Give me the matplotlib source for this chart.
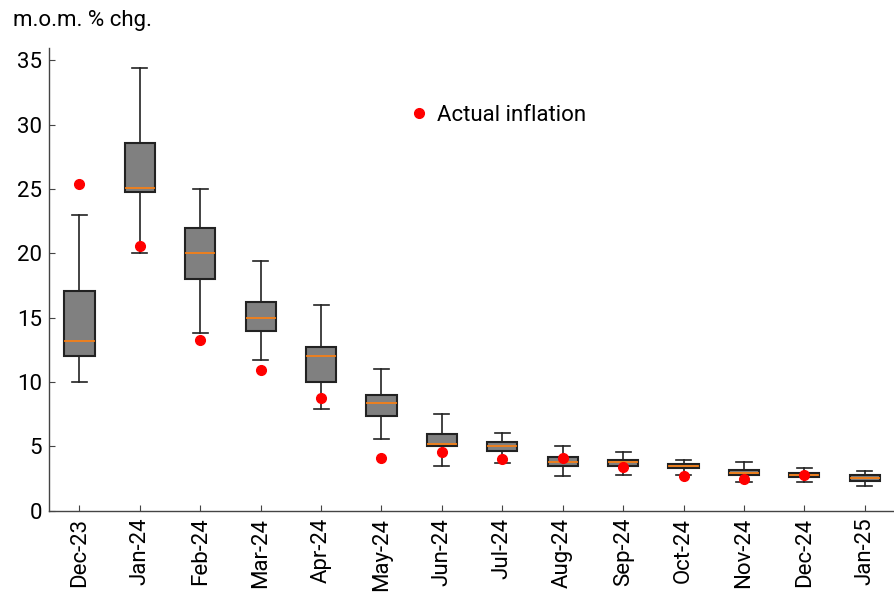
import matplotlib
matplotlib.use("Agg")
import matplotlib.pyplot as plt

plt.rcParams['font.family'] = ['Roboto', 'DejaVu Sans']

months = ["Dec-23", "Jan-24", "Feb-24", "Mar-24", "Apr-24", "May-24", "Jun-24",
          "Jul-24", "Aug-24", "Sep-24", "Oct-24", "Nov-24", "Dec-24", "Jan-25"]
whisk_lo = [10.0, 20.0, 13.8, 11.7, 7.95, 5.6, 3.5, 3.75, 2.7, 2.8, 2.8, 2.24, 2.24, 1.9]
q1 =       [12.0, 24.8, 18.0, 14.0, 10.0, 7.4, 5.0, 4.62, 3.47, 3.49, 3.31, 2.78, 2.6, 2.31]
median =   [13.2, 25.1, 20.0, 15.0, 12.0, 8.4, 5.16, 5.05, 3.77, 3.77, 3.49, 2.96, 2.8, 2.52]
q3 =       [17.1, 28.6, 21.95, 16.2, 12.7, 9.0, 5.97, 5.34, 4.16, 3.95, 3.67, 3.16, 2.96, 2.75]
whisk_hi = [23.0, 34.4, 25.0, 19.4, 16.0, 11.05, 7.5, 6.05, 5.0, 4.57, 3.95, 3.77, 3.34, 3.13]
actual =   [25.4, 20.6, 13.25, 10.95, 8.8, 4.1, 4.57, 4.03, 4.13, 3.44, 2.7, 2.44, 2.75, None]

fig = plt.figure(figsize=(8.95, 5.94), dpi=100)
ax = fig.add_axes([0.055, 0.14, 0.945, 0.78])

stats = []
for i, m in enumerate(months):
    stats.append(dict(label=m, whislo=whisk_lo[i], q1=q1[i], med=median[i],
                      q3=q3[i], whishi=whisk_hi[i], fliers=[]))
positions = list(range(1, len(months) + 1))
ax.bxp(stats, positions=positions, widths=0.5, patch_artist=True, showfliers=False,
       boxprops=dict(facecolor='#808080', edgecolor='#222222', linewidth=1.5),
       medianprops=dict(color='#ff7f0e', linewidth=1.2),
       whiskerprops=dict(color='#222222', linewidth=1.2),
       capprops=dict(color='#222222', linewidth=1.2))

xs = [p for p, a in zip(positions, actual) if a is not None]
ys = [a for a in actual if a is not None]
ax.plot(xs, ys, 'o', color='red', markersize=7, linestyle='none',
        label='Actual inflation', zorder=5)

ax.set_xlim(0.5, 14.5)
ax.set_ylim(0, 36)
ax.set_yticks([0, 5, 10, 15, 20, 25, 30, 35])
ax.set_xticks(positions)
ax.set_xticklabels(months, rotation=90, fontsize=16)
ax.tick_params(axis='y', labelsize=16, direction='in', length=4, color='#444444', pad=5)
ax.tick_params(axis='x', direction='in', length=4, color='#444444', pad=5)
for s in ['top', 'right']:
    ax.spines[s].set_visible(False)
for s in ['left', 'bottom']:
    ax.spines[s].set_color('#444444')
    ax.spines[s].set_linewidth(1.0)

ax.legend(loc='center left', bbox_to_anchor=(0.424, 0.853), frameon=False,
          fontsize=16, handletextpad=0.3, handlelength=1.0, borderpad=0,
          borderaxespad=0)

fig.text(0.014, 0.966, "m.o.m. % chg.", fontsize=16, va='center', ha='left')

fig.savefig("out.png", dpi=100)
